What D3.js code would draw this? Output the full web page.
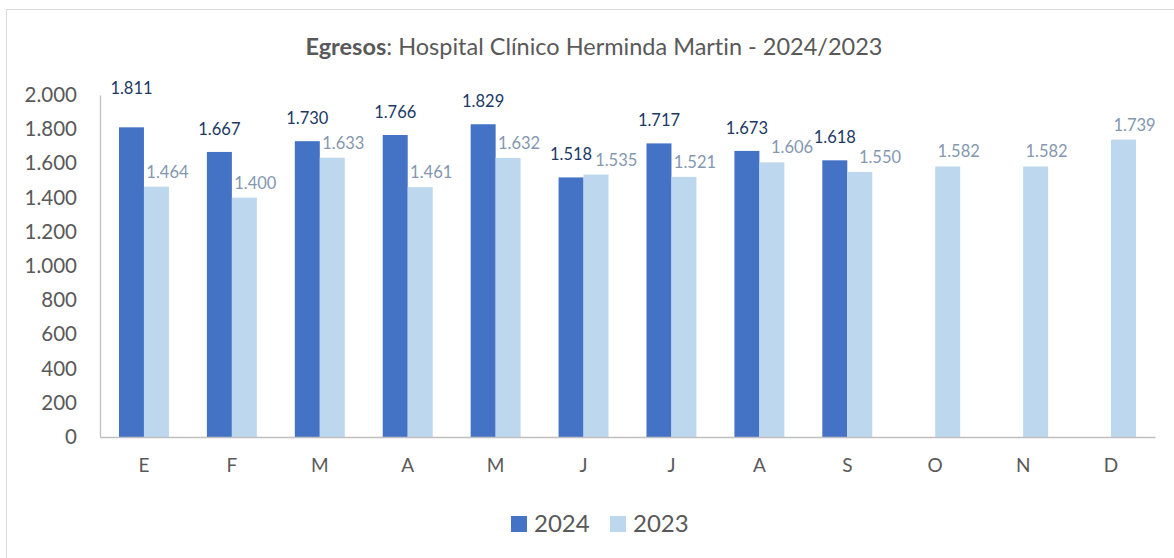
<!DOCTYPE html>
<html>
<head>
<meta charset="utf-8">
<script src="https://cdn.jsdelivr.net/npm/d3@7"></script>
<style>
  body { margin: 0; background: #fff; }
  text { font-family: Lato, "Open Sans", sans-serif; font-variant-ligatures: none; }
</style>
</head>
<body>
<div id="chart"></div>
<script>
// Datos
const meses = ['E', 'F', 'M', 'A', 'M', 'J', 'J', 'A', 'S', 'O', 'N', 'D']
const egresos2024 = [1811, 1667, 1730, 1766, 1829, 1518, 1717, 1673, 1618, null, null, null]
const egresos2023 = [1464, 1400, 1633, 1461, 1632, 1535, 1521, 1606, 1550, 1582, 1582, 1739]
const series = ['2024', '2023']
const yTicks = [0, 200, 400, 600, 800, 1000, 1200, 1400, 1600, 1800, 2000]

const colores = { '2024': '#4472C4', '2023': '#BDD7EE' }
const coloresLabel = { '2024': '#203864', '2023': '#8497B0' }

const W = 1174, H = 558
let margin = { top: 95, right: 19, bottom: 121, left: 100 }

// formato con punto de miles
const es = d3.formatLocale({ decimal: ',', thousands: '.', grouping: [3], currency: ['$', ''] })
const fmt = es.format(',d')

let svg = d3.select('#chart').append('svg')
    .attr('width', W)
    .attr('height', H)

// borde del gráfico
svg.append('rect')
    .attr('x', 6.5).attr('y', 9.5)
    .attr('width', W + 10).attr('height', H + 10)
    .attr('fill', 'none')
    .attr('stroke', '#D9D9D9')

// título
let title = svg.append('text')
    .attr('x', 594)
    .attr('y', 55)
    .attr('text-anchor', 'middle')
    .attr('font-size', 23.5)
    .attr('fill', '#595959')
title.append('tspan').attr('font-weight', 'bold').text('Egresos')
title.append('tspan').text(': Hospital Clínico Herminda Martin - 2024/2023')

let x0 = d3.scaleBand()
    .domain(d3.range(meses.length))
    .range([margin.left, W - margin.right])
    .padding(0)

let x1 = d3.scaleBand()
    .domain(series)
    .range([0, x0.bandwidth()])
    .paddingInner(0)
    .paddingOuter(0.76)

let y = d3.scaleLinear()
    .domain([0, 2000])
    .range([H - margin.bottom, margin.top])

// eje Y
let yAxis = svg.append('g')
    .attr('transform', 'translate(' + margin.left + ',0)')
    .call(d3.axisLeft(y).tickValues(yTicks).tickFormat(fmt).tickSize(0).tickPadding(23))
yAxis.select('.domain').attr('stroke', '#BFBFBF').attr('stroke-width', 1.3)
yAxis.selectAll('text')
    .attr('font-size', 20.5)
    .attr('fill', '#595959')
    .attr('font-family', 'Lato')

// barras
const datos = meses.map((m, i) => ({ i: i, '2024': egresos2024[i], '2023': egresos2023[i] }))

let grupos = svg.append('g')
    .selectAll('g')
    .data(datos)
    .join('g')
    .attr('transform', d => 'translate(' + x0(d.i) + ',0)')

grupos.selectAll('rect')
    .data(d => series.map(s => ({ s: s, v: d[s] })).filter(e => e.v != null))
    .join('rect')
    .attr('x', d => x1(d.s))
    .attr('width', x1.bandwidth())
    .attr('y', d => y(d.v))
    .attr('height', d => y(0) - y(d.v))
    .attr('fill', d => colores[d.s])

// etiquetas de datos
grupos.selectAll('text')
    .data(d => series.map(s => ({ s: s, v: d[s], i: d.i })).filter(e => e.v != null))
    .join('text')
    .attr('class', d => 'lbl s' + d.s)
    .attr('x', d => x1(d.s) + x1.bandwidth() / 2 + (d.s === '2023' ? 11 : 0))
    .attr('y', d => {
        if (d.s === '2023') return y(d.v) - 9
        return y(d.v) - (d.i === 0 ? 33 : 17)
    })
    .attr('text-anchor', 'middle')
    .attr('font-size', 16.5)
    .attr('fill', d => coloresLabel[d.s])
    .text(d => fmt(d.v))

// si dos etiquetas del mismo mes chocan, correr la de 2023 a la derecha
grupos.each(function () {
    let g = d3.select(this)
    let a = g.select('text.s2024').node()
    let b = g.select('text.s2023').node()
    if (!a || !b) return
    let ba = a.getBBox(), bb = b.getBBox()
    let solapY = ba.y < bb.y + bb.height && bb.y < ba.y + ba.height
    if (solapY && bb.x < ba.x + ba.width + 3) {
        let dx = ba.x + ba.width + 3 - bb.x
        d3.select(b).attr('x', +d3.select(b).attr('x') + dx)
    }
})

// eje X
let xAxis = svg.append('g')
    .attr('transform', 'translate(0,' + y(0) + ')')
    .call(d3.axisBottom(x0).tickFormat(i => meses[i]).tickSize(0).tickPadding(22))
xAxis.select('.domain').attr('stroke', '#BFBFBF').attr('stroke-width', 1.3)
xAxis.selectAll('text')
    .attr('font-size', 19)
    .attr('fill', '#595959')
    .attr('font-family', 'Lato')

// leyenda
let leyenda = svg.append('g')
    .selectAll('g')
    .data(series)
    .join('g')
    .attr('transform', (d, i) => 'translate(' + (511 + i * 99) + ',516)')
leyenda.append('rect')
    .attr('width', 16).attr('height', 16)
    .attr('fill', d => colores[d])
leyenda.append('text')
    .attr('x', 23)
    .attr('y', 16)
    .attr('font-size', 24)
    .attr('fill', '#595959')
    .text(d => d)
</script>
</body>
</html>
